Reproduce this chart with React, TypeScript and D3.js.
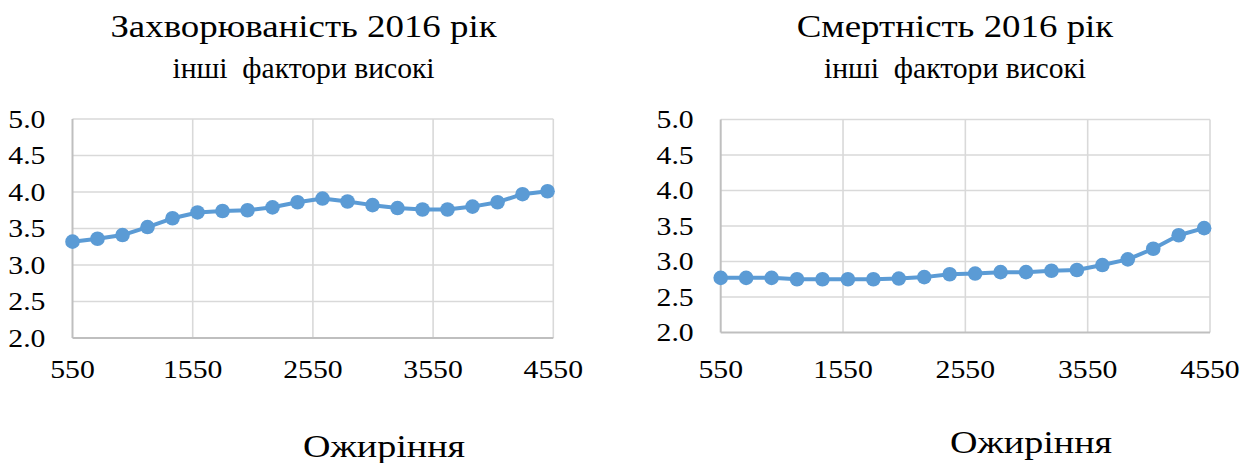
import React, { useEffect, useRef } from "react";
import * as d3 from "d3";

// Obesity level (x) shared by both panels
const obesityLevels = [
  550, 758, 966, 1174, 1382, 1590, 1798, 2006, 2214, 2422,
  2630, 2838, 3046, 3254, 3462, 3670, 3878, 4086, 4294, 4502,
];

// Incidence 2016, other factors high
const incidence = [
  3.32, 3.36, 3.41, 3.52, 3.64, 3.72, 3.74, 3.75, 3.79, 3.86,
  3.91, 3.87, 3.82, 3.78, 3.76, 3.76, 3.8, 3.86, 3.97, 4.01,
];

// Mortality 2016, other factors high
const mortality = [
  2.77, 2.77, 2.77, 2.75, 2.75, 2.75, 2.75, 2.76, 2.78, 2.82,
  2.83, 2.85, 2.85, 2.87, 2.88, 2.95, 3.03, 3.18, 3.37, 3.47,
];

const xTicks = [550, 1550, 2550, 3550, 4550];
const yTicks = [2.0, 2.5, 3.0, 3.5, 4.0, 4.5, 5.0];

const titleLeft = "Захворюваність 2016 рік";
const titleRight = "Смертність 2016 рік";
const subtitle = "інші  фактори високі";
const xAxisTitle = "Ожиріння";

const W = 1242;
const H = 463;
const FONT = "'Liberation Serif', 'Times New Roman', serif";
const LINE = "#5B9BD5";
// glyphs are drawn slightly wide
const STRETCH = 1.19;

type Panel = {
  values: number[];
  title: string;
  plot: { x0: number; x1: number; y0: number; y1: number };
  titleX: number;
  axisTitle: { x: number; y: number };
};

const panels: Panel[] = [
  {
    values: incidence,
    title: titleLeft,
    plot: { x0: 72.5, x1: 553.3, y0: 119, y1: 338 },
    titleX: 303.5,
    axisTitle: { x: 384, y: 456.5 },
  },
  {
    values: mortality,
    title: titleRight,
    plot: { x0: 720.7, x1: 1210, y0: 119.5, y1: 332.5 },
    titleX: 955,
    axisTitle: { x: 1031, y: 453.3 },
  },
];

type Sel = d3.Selection<any, any, any, any>;

function label(
  parent: Sel,
  x: number,
  y: number,
  text: string,
  size: number,
  anchor: "start" | "middle" | "end",
  stretch = STRETCH
) {
  parent
    .append("text")
    .attr("transform", `translate(${x},${y}) scale(${stretch},1)`)
    .attr("text-anchor", anchor)
    .attr("font-family", FONT)
    .attr("font-size", size)
    .attr("fill", "#000")
    .style("white-space", "pre")
    .text(text);
}

export default function App() {
  const ref = useRef<SVGSVGElement>(null);

  useEffect(() => {
    const svg = d3.select(ref.current);
    svg.selectAll("*").remove();
    svg.append("rect").attr("width", W).attr("height", H).attr("fill", "#fff");

    panels.forEach((p) => {
      const g = svg.append("g");
      const x = d3.scaleLinear().domain([550, 4550]).range([p.plot.x0, p.plot.x1]);
      const y = d3.scaleLinear().domain([2, 5]).range([p.plot.y1, p.plot.y0]);

      // titles
      label(g, p.titleX, 37.3, p.title, 31, "middle");
      label(g, p.titleX, 78, subtitle, 28.5, "middle", 1.04);

      // horizontal gridlines
      g.append("g")
        .selectAll("line")
        .data(yTicks.slice(1))
        .join("line")
        .attr("x1", p.plot.x0)
        .attr("x2", p.plot.x1)
        .attr("y1", (d) => y(d))
        .attr("y2", (d) => y(d))
        .attr("stroke", "#d9d9d9")
        .attr("stroke-width", 1.6);

      // vertical gridlines
      g.append("g")
        .selectAll("line")
        .data(xTicks.slice(1))
        .join("line")
        .attr("x1", (d) => x(d))
        .attr("x2", (d) => x(d))
        .attr("y1", p.plot.y0)
        .attr("y2", p.plot.y1)
        .attr("stroke", "#d9d9d9")
        .attr("stroke-width", 1.6);

      // axis lines
      g.append("line")
        .attr("x1", p.plot.x0)
        .attr("x2", p.plot.x1)
        .attr("y1", p.plot.y1)
        .attr("y2", p.plot.y1)
        .attr("stroke", "#bfbfbf")
        .attr("stroke-width", 2);
      g.append("line")
        .attr("x1", p.plot.x0)
        .attr("x2", p.plot.x0)
        .attr("y1", p.plot.y0)
        .attr("y2", p.plot.y1)
        .attr("stroke", "#bfbfbf")
        .attr("stroke-width", 2);

      // y tick labels
      yTicks.forEach((t) =>
        label(g, p.plot.x0 - 27, y(t) + 8.5, d3.format(".1f")(t), 25, "end")
      );

      // x tick labels
      xTicks.forEach((t) => label(g, x(t), 377.5, String(t), 25, "middle"));

      // axis title
      label(g, p.axisTitle.x, p.axisTitle.y, xAxisTitle, 32, "middle");

      // series
      const pts = obesityLevels.map((v, i) => [v, p.values[i]] as [number, number]);
      const line = d3
        .line<[number, number]>()
        .x((d) => x(d[0]))
        .y((d) => y(d[1]));
      g.append("path")
        .attr("d", line(pts))
        .attr("fill", "none")
        .attr("stroke", LINE)
        .attr("stroke-width", 4)
        .attr("stroke-linejoin", "round");
      g.append("g")
        .selectAll("circle")
        .data(pts)
        .join("circle")
        .attr("cx", (d) => x(d[0]))
        .attr("cy", (d) => y(d[1]))
        .attr("r", 7.3)
        .attr("fill", LINE);
    });
  }, []);

  return (
    <svg
      ref={ref}
      width={W}
      height={H}
      style={{ position: "absolute", left: 0, top: 0, display: "block" }}
    />
  );
}
